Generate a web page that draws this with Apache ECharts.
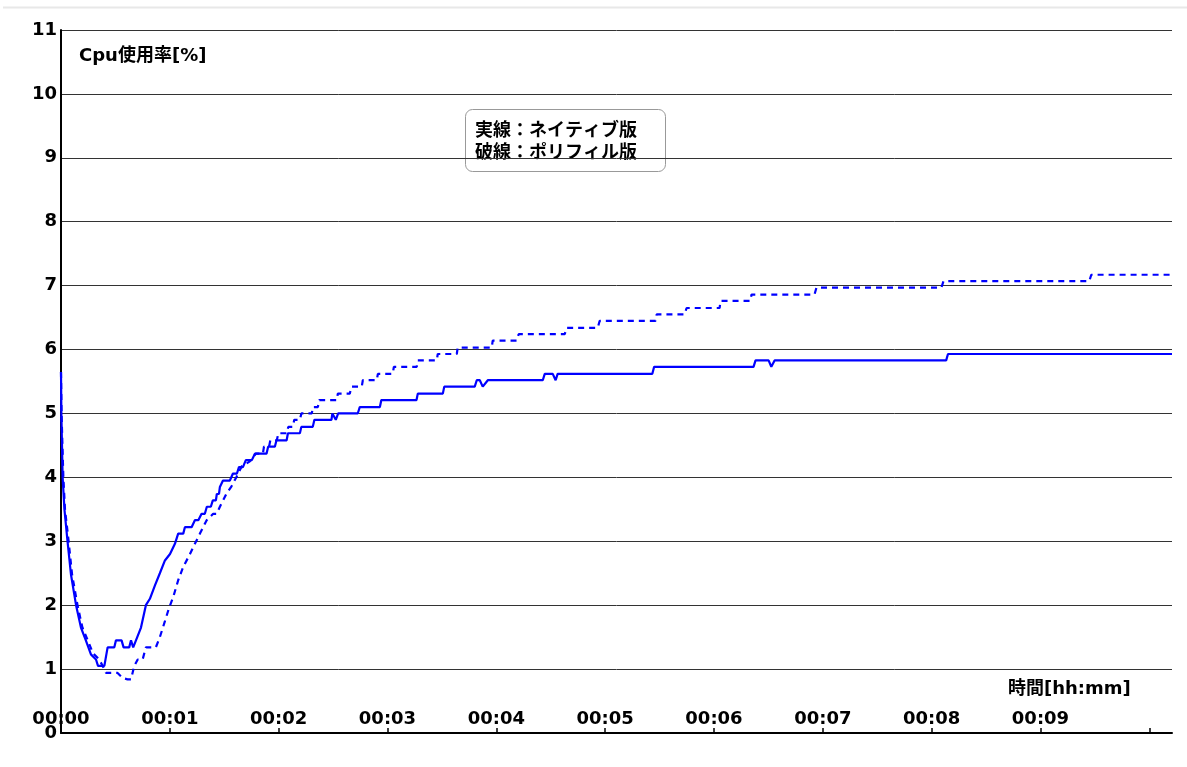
<!DOCTYPE html>
<html lang="ja">
<head>
<meta charset="utf-8">
<title>Cpu使用率</title>
<script src="https://cdn.jsdelivr.net/npm/echarts@6.0.0/dist/echarts.min.js"></script>
<style>
  html, body { margin: 0; padding: 0; background: #fff; }
  #chart { width: 1187px; height: 767px; }
</style>
</head>
<body>
<div id="chart"></div>
<script>
// Elapsed time in seconds, CPU usage in percent.
const nativeCpu = [
  [0, 5.65], [0.2, 5.0], [0.9, 4.0], [1.9, 3.5], [3.6, 3.0], [5.5, 2.48], [8.3, 2.0],
  [11.0, 1.65], [13.8, 1.44], [16.5, 1.23], [19.3, 1.15], [20.4, 1.05], [23.9, 1.05],
  [25.7, 1.34], [29.4, 1.34], [30.3, 1.45], [33.4, 1.45], [34.5, 1.34], [37.6, 1.34],
  [38.6, 1.45], [39.8, 1.34], [40.8, 1.34], [44.1, 1.65], [46.8, 2.0], [49.0, 2.1],
  [51.8, 2.31], [54.5, 2.5], [57.3, 2.7], [60.1, 2.8], [62.8, 2.96], [64.6, 3.12],
  [67.4, 3.12], [68.3, 3.22], [72.0, 3.22], [73.8, 3.33], [75.7, 3.33], [77.5, 3.43],
  [79.3, 3.43], [80.4, 3.54], [82.6, 3.54], [83.7, 3.64], [85.4, 3.64], [85.9, 3.74],
  [87.1, 3.74], [87.6, 3.85], [88.7, 3.85], [89.3, 3.95], [93.1, 3.95], [94.8, 4.06],
  [97.0, 4.06], [98.1, 4.16], [100.3, 4.16], [101.9, 4.27], [105.2, 4.27], [106.9, 4.37],
  [113.3, 4.37], [114.2, 4.48], [117.9, 4.48], [118.8, 4.58], [124.4, 4.58], [125.1, 4.69],
  [131.7, 4.69], [132.5, 4.79], [138.8, 4.79], [139.7, 4.90], [149.1, 4.90], [149.6, 5.0],
  [151.5, 4.90], [152.8, 5.0], [163.6, 5.0], [164.7, 5.10], [175.8, 5.10], [176.6, 5.21],
  [196.0, 5.21], [196.7, 5.31], [210.5, 5.31], [211.3, 5.42], [228.1, 5.42], [229.2, 5.52],
  [230.9, 5.52], [232.5, 5.42], [235.3, 5.52], [265.6, 5.52], [266.7, 5.62], [271.1, 5.62],
  [272.7, 5.52], [273.8, 5.62], [326.0, 5.62], [327.0, 5.73], [381.8, 5.73], [382.9, 5.83],
  [390.1, 5.83], [391.6, 5.73], [393.4, 5.83], [488.0, 5.83], [489.0, 5.93], [612.5, 5.93]
];

const polyfillCpu = [
  [0, 5.65], [0.3, 5.0], [1.3, 4.0], [2.2, 3.5], [4.2, 3.0], [6.1, 2.48], [9.1, 2.0],
  [11.8, 1.65], [14.9, 1.44], [17.6, 1.25], [21.1, 1.15], [23.9, 1.0], [24.8, 0.94],
  [31.2, 0.94], [34.0, 0.86], [36.7, 0.84], [38.6, 0.84], [40.4, 1.05], [42.3, 1.15],
  [45.0, 1.15], [46.8, 1.34], [52.3, 1.34], [54.5, 1.5], [57.3, 1.75], [59.5, 1.95],
  [61.9, 2.13], [64.6, 2.39], [67.4, 2.6], [71.1, 2.8], [73.8, 2.96], [76.6, 3.12],
  [80.3, 3.33], [83.9, 3.43], [85.8, 3.43], [87.6, 3.54], [91.3, 3.75], [94.0, 3.86],
  [96.8, 4.01], [99.6, 4.17], [104.1, 4.25], [107.4, 4.37], [111.3, 4.37], [111.9, 4.48],
  [114.7, 4.48], [115.4, 4.58], [119.0, 4.58], [119.8, 4.69], [124.5, 4.69], [125.3, 4.79],
  [127.8, 4.79], [128.6, 4.90], [131.7, 4.90], [132.5, 5.0], [138.3, 5.0], [138.8, 5.10],
  [141.6, 5.10], [142.4, 5.21], [152.1, 5.21], [152.6, 5.31], [159.2, 5.31], [160.1, 5.42],
  [165.8, 5.42], [166.4, 5.52], [174.1, 5.52], [174.7, 5.62], [182.9, 5.62], [183.5, 5.73],
  [196.1, 5.73], [196.7, 5.83], [207.2, 5.83], [207.7, 5.93], [218.2, 5.93], [218.7, 6.03],
  [237.5, 6.03], [238.0, 6.14], [251.2, 6.14], [252.3, 6.24], [277.7, 6.24], [278.8, 6.34],
  [295.9, 6.34], [297.0, 6.45], [327.8, 6.45], [328.4, 6.55], [343.8, 6.55], [344.9, 6.65],
  [363.1, 6.65], [363.6, 6.76], [380.0, 6.76], [380.7, 6.86], [415.4, 6.86], [416.5, 6.97],
  [485.4, 6.97], [486.5, 7.07], [566.9, 7.07], [568.0, 7.17], [612.5, 7.17]
];

const yAxisTitle = 'Cpu使用率[%]';
const xAxisTitle = '時間[hh:mm]';
const legendLines = ['実線：ネイティブ版', '破線：ポリフィル版'];

const FONT = "'DejaVu Sans', 'Noto Sans CJK JP', sans-serif";
const LINE_COLOR = '#0000ff';

function hhmm(sec) {
  const m = Math.round(sec / 60);
  const h = Math.floor(m / 60);
  const mm = m % 60;
  return String(h).padStart(2, '0') + ':' + String(mm).padStart(2, '0');
}

const chart = echarts.init(document.getElementById('chart'), null, { renderer: 'canvas' });

chart.setOption({
  animation: false,
  backgroundColor: '#fff',
  grid: { left: 61, right: 15, top: 30, bottom: 34 },
  xAxis: {
    type: 'value',
    min: 0,
    max: 612.5,
    interval: 60,
    axisLine: { show: true, lineStyle: { color: '#000', width: 2 } },
    axisTick: { show: true, inside: true, length: 5, lineStyle: { color: '#000', width: 1.5 } },
    axisLabel: {
      inside: true,
      margin: 5,
      color: '#000',
      fontFamily: FONT,
      fontWeight: 'bold',
      fontSize: 18,
      showMaxLabel: false,
      formatter: v => (v >= 600 ? '' : hhmm(v))
    },
    splitLine: { show: false }
  },
  yAxis: {
    type: 'value',
    min: 0,
    max: 11,
    interval: 1,
    axisLine: { show: true, lineStyle: { color: '#000', width: 2 } },
    axisTick: { show: false },
    axisLabel: {
      margin: 4,
      color: '#000',
      fontFamily: FONT,
      fontWeight: 'bold',
      fontSize: 18,
      padding: [4, 0, 0, 0]
    },
    splitLine: { show: true, lineStyle: { color: '#333', width: 1 } }
  },
  series: [
    {
      name: 'ネイティブ版',
      type: 'line',
      data: nativeCpu,
      showSymbol: false,
      lineStyle: { color: LINE_COLOR, width: 2.2 },
      z: 3
    },
    {
      name: 'ポリフィル版',
      type: 'line',
      data: polyfillCpu,
      showSymbol: false,
      lineStyle: { color: LINE_COLOR, width: 2.2, type: [6, 5] },
      z: 3
    }
  ],
  graphic: [
    {
      type: 'line',
      shape: { x1: 3, y1: 7.5, x2: 1187, y2: 7.5 },
      style: { stroke: '#e8e8e8', lineWidth: 2 },
      silent: true
    },
    {
      type: 'text',
      left: 79,
      top: 47,
      style: { text: yAxisTitle, fill: '#000', font: 'bold 18px ' + FONT }
    },
    {
      type: 'text',
      left: 1008,
      top: 680,
      style: { text: xAxisTitle, fill: '#000', font: 'bold 18px ' + FONT }
    },
    {
      type: 'group',
      left: 465,
      top: 109,
      z: 10,
      children: [
        {
          type: 'rect',
          shape: { x: 0.5, y: 0.5, width: 200, height: 62, r: 7 },
          style: { fill: '#fff', stroke: '#999', lineWidth: 1 }
        },
        {
          type: 'text',
          x: 10,
          y: 13,
          style: { text: legendLines[0], fill: '#000', font: 'bold 18px ' + FONT }
        },
        {
          type: 'text',
          x: 10,
          y: 35,
          style: { text: legendLines[1], fill: '#000', font: 'bold 18px ' + FONT }
        }
      ]
    }
  ]
});
</script>
</body>
</html>
